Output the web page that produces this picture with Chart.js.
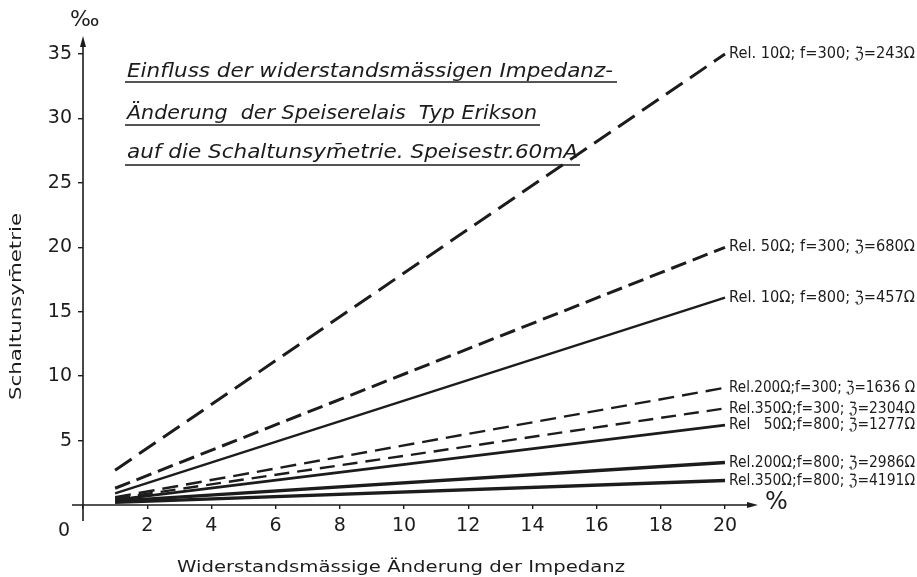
<!DOCTYPE html>
<html>
<head>
<meta charset="utf-8">
<script src="https://cdn.jsdelivr.net/npm/chart.js@4.4.1/dist/chart.umd.min.js"></script>
<style>
  html, body { margin: 0; padding: 0; background: #fff; }
  canvas { display: block; }
</style>
</head>
<body>
<canvas id="grafico" width="917" height="577"></canvas>
<script>
  // Valores (x em %, y em ‰)
  const xPontos = [1, 20];
  const xTicks = [0, 2, 4, 6, 8, 10, 12, 14, 16, 18, 20];
  const yTicks = [0, 5, 10, 15, 20, 25, 30, 35];

  const rel10f300 = [2.7, 35.0];
  const rel50f300 = [1.3, 20.0];
  const rel10f800 = [0.9, 16.1];
  const rel200f300 = [0.6, 9.1];
  const rel350f300 = [0.5, 7.5];
  const rel50f800 = [0.4, 6.2];
  const rel200f800 = [0.3, 3.3];
  const rel350f800 = [0.2, 1.9];

  const series = [rel10f300, rel50f300, rel10f800, rel200f300, rel350f300, rel50f800, rel200f800, rel350f800];

  const rotulos = [
    'Rel. 10Ω; f=300; ℨ=243Ω',
    'Rel. 50Ω; f=300; ℨ=680Ω',
    'Rel. 10Ω; f=800; ℨ=457Ω',
    'Rel.200Ω;f=300; ℨ=1636 Ω',
    'Rel.350Ω;f=300; ℨ=2304Ω',
    'Rel   50Ω;f=800; ℨ=1277Ω',
    'Rel.200Ω;f=800; ℨ=2986Ω',
    'Rel.350Ω;f=800; ℨ=4191Ω'
  ];

  const titulo = [
    'Einfluss der widerstandsmässigen Impedanz-',
    'Änderung  der Speiserelais  Typ Erikson',
    'auf die Schaltunsym\u0304etrie. Speisestr.60mA'
  ];

  // Estilo das linhas
  const tracos = [[20, 9], [16, 7], [], [16, 8], [15, 8], [], [], []];
  const espessuras = [3, 3, 2.4, 2.4, 2.4, 2.6, 3.4, 3.4];
  const tinta = '#1c1c1c';

  // Escreve texto esticado/comprimido para uma largura
  function textoLargura(ctx, texto, x, y, largura) {
    const w = ctx.measureText(texto).width;
    ctx.save();
    ctx.translate(x, y);
    ctx.scale(largura / w, 1);
    ctx.fillText(texto, 0, 0);
    ctx.restore();
  }

  function seta(ctx, x, y, dir) {
    ctx.beginPath();
    if (dir === 'cima') {
      ctx.moveTo(x, y);
      ctx.lineTo(x - 3, y + 11);
      ctx.lineTo(x + 3, y + 11);
    } else {
      ctx.moveTo(x, y);
      ctx.lineTo(x - 11, y - 3);
      ctx.lineTo(x - 11, y + 3);
    }
    ctx.closePath();
    ctx.fill();
  }

  const desenho = {
    id: 'desenho',
    afterDraw(chart) {
      const ctx = chart.ctx;
      const sx = chart.scales.x;
      const sy = chart.scales.y;
      const x0 = sx.getPixelForValue(0);
      const y0 = sy.getPixelForValue(0);

      ctx.save();
      ctx.strokeStyle = tinta;
      ctx.fillStyle = tinta;
      ctx.lineWidth = 1.6;

      // eixos com setas
      ctx.beginPath();
      ctx.moveTo(x0, y0 + 16);
      ctx.lineTo(x0, 40);
      ctx.moveTo(x0 - 11, y0);
      ctx.lineTo(754, y0);
      ctx.stroke();
      seta(ctx, x0, 36, 'cima');
      seta(ctx, 758, y0, 'dir');

      // unidades
      ctx.font = '22px "DejaVu Sans"';
      ctx.textBaseline = 'middle';
      ctx.textAlign = 'left';
      ctx.fillText('‰', 70, 20);
      ctx.font = '24px "DejaVu Sans"';
      ctx.fillText('%', 765, y0 - 2);
      ctx.font = '19px "DejaVu Sans"';
      ctx.textAlign = 'center';
      ctx.fillText('0', 64, 531);

      // títulos dos eixos
      ctx.font = '16px "DejaVu Sans"';
      ctx.textAlign = 'left';
      ctx.textBaseline = 'middle';
      const tx = 'Widerstandsmässige Änderung der Impedanz';
      textoLargura(ctx, tx, 177, 568, 448);
      ctx.save();
      ctx.translate(17, 400);
      ctx.rotate(-Math.PI / 2);
      textoLargura(ctx, 'Schaltunsym\u0304etrie', 0, 0, 187);
      ctx.restore();

      // título em itálico sublinhado
      ctx.font = 'italic 20px "DejaVu Sans"';
      ctx.textBaseline = 'alphabetic';
      const bases = [77, 119, 158];
      const larguras = [486, 410, 451];
      const sublinhas = [[125, 617, 82], [125, 540, 125], [125, 580, 165]];
      titulo.forEach((t, i) => {
        textoLargura(ctx, t, 127, bases[i], larguras[i]);
        const s = sublinhas[i];
        ctx.lineWidth = 1.5;
        ctx.beginPath();
        ctx.moveTo(s[0], s[2]);
        ctx.lineTo(s[1], s[2]);
        ctx.stroke();
      });

      // rótulos das curvas
      ctx.font = '16px "DejaVu Sans"';
      ctx.textBaseline = 'middle';
      chart.data.datasets.forEach((ds, i) => {
        const meta = chart.getDatasetMeta(i);
        const p = meta.data[meta.data.length - 1];
        textoLargura(ctx, rotulos[i], p.x + 4, p.y, 186);
      });
      ctx.restore();
    }
  };

  const ctx = document.getElementById('grafico').getContext('2d');
  new Chart(ctx, {
    type: 'line',
    data: {
      datasets: series.map((s, i) => ({
        label: rotulos[i],
        data: xPontos.map((x, j) => ({ x: x, y: s[j] })),
        borderColor: tinta,
        borderWidth: espessuras[i],
        borderDash: tracos[i],
        borderCapStyle: 'butt',
        pointRadius: 0,
        fill: false,
        tension: 0,
        clip: false
      }))
    },
    options: {
      responsive: false,
      animation: false,
      layout: { padding: { top: 54, right: 192, left: 0, bottom: 0 } },
      plugins: { legend: { display: false }, tooltip: { enabled: false } },
      scales: {
        x: {
          type: 'linear',
          min: 0,
          max: 20,
          afterFit: s => { s.height = 72; },
          afterBuildTicks: s => { s.ticks = xTicks.map(v => ({ value: v })); },
          ticks: {
            callback: v => (v === 0 ? '' : v),
            font: { family: 'DejaVu Sans', size: 19 },
            color: tinta,
            padding: 6,
            maxRotation: 0,
            autoSkip: false
          },
          grid: { drawOnChartArea: false, tickLength: 4, color: tinta, lineWidth: 1.4 },
          border: { display: false }
        },
        y: {
          min: 0,
          max: 35,
          afterFit: s => { s.width = 83; },
          afterBuildTicks: s => { s.ticks = yTicks.map(v => ({ value: v })); },
          ticks: {
            callback: v => (v === 0 ? '' : v),
            font: { family: 'DejaVu Sans', size: 19 },
            color: tinta,
            padding: 6
          },
          grid: { drawOnChartArea: false, tickLength: 5, color: (c) => (c.tick && c.tick.value === 0 ? 'rgba(0,0,0,0)' : tinta), lineWidth: 1.4 },
          border: { display: false }
        }
      }
    },
    plugins: [desenho]
  });
</script>
</body>
</html>
